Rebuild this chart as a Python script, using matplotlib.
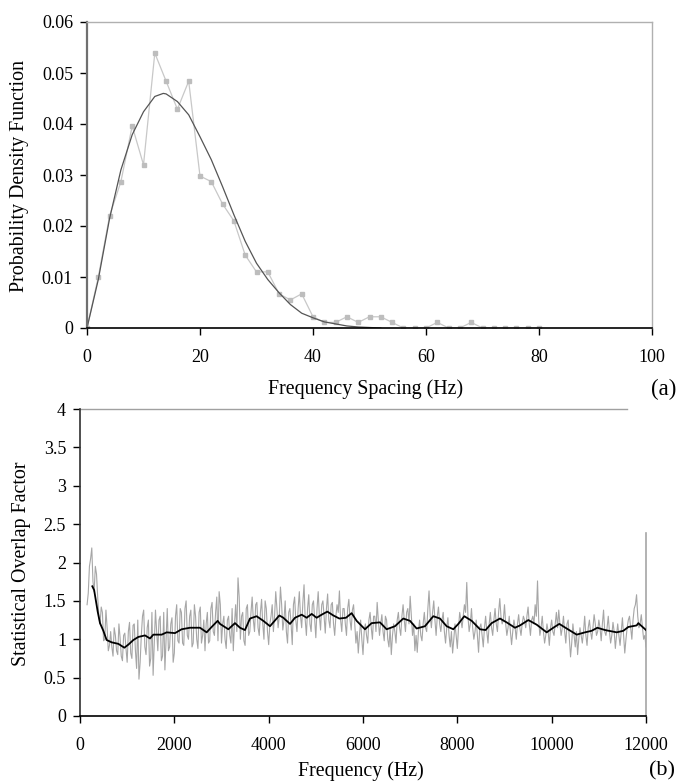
import numpy as np
import matplotlib.pyplot as plt

plt.rcParams['font.family'] = ['Liberation Serif', 'DejaVu Serif']

# (a) measured spacing histogram, every 2 Hz
spacing_x = [0, 2, 4, 6, 8, 10, 12, 14, 16, 18, 20, 22, 24, 26, 28, 30, 32, 34, 36, 38, 40,
             42, 44, 46, 48, 50, 52, 54, 56, 58, 60, 62, 64, 66, 68, 70, 72, 74, 76, 78, 80]
spacing_pdf = [0, 0.0100, 0.0220, 0.0287, 0.0396, 0.0320, 0.0539, 0.0484, 0.0429, 0.0484,
               0.0298, 0.0287, 0.0243, 0.0210, 0.0143, 0.0110, 0.0110, 0.0067, 0.0055, 0.0067,
               0.0022, 0.0011, 0.0011, 0.0022, 0.0011, 0.0022, 0.0022, 0.0011, 0, 0, 0,
               0.0011, 0, 0, 0.0011, 0, 0, 0, 0, 0, 0]

# (a) fitted curve
fit_x = [0, 2, 4, 6, 8, 10, 12, 13.5, 14, 16, 18, 20, 22, 24, 26, 28, 30, 32, 34, 36, 38,
         40, 42, 44, 46, 48, 50, 52]
fit_pdf = [0, 0.0095, 0.0215, 0.0310, 0.0379, 0.0424, 0.0454, 0.0460, 0.0459, 0.0444,
           0.0418, 0.0375, 0.0330, 0.0277, 0.0222, 0.0170, 0.0127, 0.0095, 0.0069, 0.0046,
           0.0029, 0.0020, 0.0012, 0.0008, 0.0004, 0.0002, 0.0001, 0]

# (b) raw statistical overlap factor, on the 50 Hz grid (150..12000)
sof_freq = np.arange(150, 12001, 50)
sof_raw = [
    1.45, 1.95, 2.19, 1.62, 1.85, 1.30, 1.42, 0.98, 1.38, 0.85,
    1.10, 0.78, 1.05, 0.80, 1.02, 0.72, 1.08, 0.70, 1.22, 0.75,
    1.20, 0.62, 0.48, 1.05, 1.38, 0.80, 1.25, 0.75, 0.53, 1.38,
    0.85, 1.30, 0.78, 0.60, 1.40, 0.90, 1.28, 0.82, 1.45, 0.95,
    1.35, 0.92, 1.50, 1.00, 1.38, 0.95, 1.30, 0.88, 1.42, 1.05,
    0.85, 1.35, 0.98, 1.48, 1.05, 1.55, 1.62, 0.95, 1.30, 0.88,
    1.30, 0.95, 0.85, 1.45, 1.80, 1.00, 1.35, 0.92, 1.45, 1.10,
    1.55, 1.10, 1.48, 1.05, 1.52, 1.00, 1.40, 0.93, 1.30, 1.10,
    1.62, 1.15, 1.68, 1.12, 1.50, 0.95, 1.40, 0.93, 1.55, 1.10,
    1.62, 1.15, 1.71, 1.05, 1.58, 1.10, 1.50, 1.02, 1.62, 1.12,
    1.50, 1.08, 1.59, 1.15, 1.48, 1.05, 1.45, 1.63, 1.10, 1.40,
    1.05, 1.52, 1.12, 1.45, 0.95, 0.82, 1.25, 0.80, 1.20, 0.95,
    1.35, 1.00, 1.30, 1.48, 1.05, 1.32, 0.98, 1.25, 0.90, 0.80,
    1.20, 0.95, 1.35, 1.05, 1.45, 1.10, 1.40, 1.56, 1.05, 0.85,
    0.83, 1.25, 0.98, 1.35, 1.10, 1.63, 1.15, 1.50, 1.05, 1.42,
    1.10, 1.35, 0.95, 1.28, 0.90, 0.82, 1.20, 0.88, 1.35, 1.15,
    1.45, 1.74, 1.10, 1.40, 1.00, 1.25, 0.83, 1.20, 0.90, 1.30,
    0.95, 1.35, 1.05, 1.40, 1.10, 1.53, 1.20, 1.45, 1.05, 1.30,
    0.93, 1.25, 1.00, 1.32, 1.05, 1.30, 1.15, 1.42, 1.05, 1.30,
    1.45, 1.76, 1.05, 1.30, 0.95, 1.20, 0.92, 1.25, 1.05, 1.35,
    1.38, 1.05, 1.30, 0.95, 1.25, 0.77, 1.20, 0.90, 0.80, 1.15,
    0.95, 1.30, 0.92, 1.25, 1.00, 1.32, 1.05, 1.25, 0.98, 1.38,
    1.05, 1.30, 0.95, 1.22, 0.88, 1.20, 0.92, 1.28, 0.82, 1.15,
    1.30, 1.00, 1.40, 1.58, 1.15, 1.32, 1.00, 0.90,
]
# in-between samples (175..11975)
sof_freq_mid = np.arange(175, 11976, 50)
sof_raw_mid = [
    1.60, 2.05, 1.75, 1.95, 1.55, 1.20, 1.35, 1.00, 1.15, 0.92,
    0.90, 1.15, 0.85, 1.20, 0.78, 1.05, 0.88, 1.10, 0.82, 1.18,
    0.85, 1.25, 0.70, 1.30, 0.90, 1.15, 0.65, 1.35, 0.95, 1.10,
    1.25, 0.72, 1.35, 1.00, 0.85, 1.20, 0.70, 1.30, 0.98, 1.40,
    0.95, 1.40, 1.05, 1.30, 0.90, 1.45, 1.00, 1.35, 0.95, 1.25,
    1.20, 0.95, 1.40, 1.10, 1.35, 0.98, 1.45, 1.20, 1.00, 1.25,
    1.05, 1.40, 1.20, 1.10, 1.55, 1.30, 0.98, 1.40, 1.05, 1.35,
    1.25, 1.45, 1.15, 1.35, 1.20, 1.50, 1.10, 1.20, 1.45, 1.30,
    1.40, 1.30, 1.45, 1.25, 1.10, 1.35, 1.20, 1.45, 1.25, 1.40,
    1.30, 1.48, 1.25, 1.40, 1.20, 1.45, 1.25, 1.40, 1.30, 1.45,
    1.30, 1.40, 1.25, 1.45, 1.20, 1.30, 1.35, 1.25, 1.40, 1.20,
    1.40, 1.25, 1.38, 1.20, 1.10, 1.05, 1.00, 1.10, 1.05, 1.25,
    1.15, 1.30, 1.10, 1.25, 1.20, 1.10, 1.30, 1.00, 1.15, 1.05,
    1.10, 1.25, 1.15, 1.30, 1.25, 1.35, 1.20, 1.30, 1.20, 1.05,
    1.10, 1.05, 1.20, 1.15, 1.40, 1.30, 1.35, 1.25, 1.30, 1.20,
    1.25, 1.10, 1.15, 1.05, 1.10, 1.00, 1.05, 1.15, 1.25, 1.30,
    1.35, 1.30, 1.20, 1.15, 1.10, 1.05, 1.15, 1.05, 1.15, 1.10,
    1.20, 1.15, 1.25, 1.20, 1.35, 1.30, 1.25, 1.20, 1.15, 1.10,
    1.10, 1.15, 1.20, 1.15, 1.20, 1.25, 1.30, 1.20, 1.25, 1.20,
    1.30, 1.25, 1.15, 1.10, 1.05, 1.10, 1.15, 1.10, 1.20, 1.15,
    1.20, 1.15, 1.10, 1.20, 1.00, 0.95, 1.05, 1.10, 1.00, 1.05,
    1.10, 1.05, 1.15, 1.10, 1.15, 1.20, 1.10, 1.15, 1.20, 1.10,
    1.15, 1.10, 1.05, 1.10, 1.05, 1.05, 1.10, 1.05, 1.00, 1.25,
    1.15, 1.25, 1.45, 1.30, 1.20, 1.15, 1.05,
]
edge_freq = [12000, 12000]
edge_sof = [0, 2.38]

# (b) smoothed overlap factor
smooth_freq = [261, 300, 375, 424, 495, 565, 671, 813, 940, 1025, 1131, 1237, 1378, 1484,
               1555, 1731, 1837, 2014, 2155, 2332, 2544, 2685, 2791, 2918, 2968, 3145, 3286,
               3392, 3498, 3604, 3745, 3886, 4028, 4226, 4311, 4452, 4558, 4700, 4806, 4912,
               5017, 5123, 5244, 5371, 5498, 5639, 5759, 5865, 6042, 6183, 6360, 6501, 6678,
               6854, 6996, 7137, 7314, 7490, 7632, 7773, 7915, 8021, 8148, 8304, 8480, 8600,
               8727, 8904, 9045, 9222, 9328, 9505, 9682, 9894, 10035, 10162, 10318, 10530,
               10707, 10848, 10968, 11131, 11378, 11519, 11625, 11802, 11837, 12000]
smooth_sof = [1.69, 1.64, 1.36, 1.21, 1.11, 0.99, 0.96, 0.94, 0.89, 0.93, 0.99, 1.03, 1.05,
              1.01, 1.06, 1.06, 1.09, 1.08, 1.13, 1.15, 1.15, 1.09, 1.16, 1.24, 1.20, 1.13,
              1.21, 1.15, 1.12, 1.27, 1.30, 1.24, 1.17, 1.31, 1.28, 1.20, 1.28, 1.32, 1.28,
              1.33, 1.28, 1.32, 1.36, 1.31, 1.27, 1.28, 1.34, 1.24, 1.13, 1.21, 1.22, 1.13,
              1.17, 1.27, 1.24, 1.14, 1.17, 1.30, 1.27, 1.17, 1.13, 1.20, 1.30, 1.24, 1.13,
              1.12, 1.21, 1.27, 1.22, 1.15, 1.18, 1.25, 1.19, 1.09, 1.15, 1.20, 1.14, 1.06,
              1.09, 1.11, 1.15, 1.12, 1.09, 1.11, 1.16, 1.18, 1.21, 1.12]

# merge the two sample grids in frequency order
raw_f = np.concatenate([sof_freq, sof_freq_mid])
raw_v = np.concatenate([sof_raw, sof_raw_mid])
order = np.argsort(raw_f)
raw_f, raw_v = raw_f[order], raw_v[order]

fig = plt.figure(figsize=(6.8, 7.84), dpi=100)

# ---- (a) ----
ax1 = fig.add_axes([87 / 680, 1 - 328 / 784, 565 / 680, 306 / 784])
ax1.plot(spacing_x, spacing_pdf, color='#c8c8c8', lw=0.9, marker='s', ms=2.5,
         mfc='#bdbdbd', mec='#bdbdbd')
ax1.plot(fit_x, fit_pdf, color='#555555', lw=0.9)
ax1.set_xlim(0, 100)
ax1.set_ylim(0, 0.06)
ax1.set_xticks([0, 20, 40, 60, 80, 100])
ax1.set_yticks([0, 0.01, 0.02, 0.03, 0.04, 0.05, 0.06])
ax1.set_yticklabels(['0', '0.01', '0.02', '0.03', '0.04', '0.05', '0.06'])
ax1.spines['left'].set_color('#707070')
ax1.spines['left'].set_linewidth(1.6)
ax1.spines['bottom'].set_color('black')
ax1.spines['bottom'].set_linewidth(1.2)
for s in ['top', 'right']:
    ax1.spines[s].set_color('#b0b0b0')
    ax1.spines[s].set_linewidth(1.0)
ax1.tick_params(axis='x', direction='out', length=5, width=1, labelsize=13, pad=10)
ax1.tick_params(axis='y', direction='out', length=5, width=1, labelsize=13, pad=5)
fig.text(20 / 680, 1 - 176 / 784, 'Probability Density Function', rotation=90,
         ha='center', va='center', fontsize=14.4)
fig.text(366 / 680, 1 - 389 / 784, 'Frequency Spacing (Hz)', ha='center', va='center',
         fontsize=14.4)
fig.text(664 / 680, 1 - 389 / 784, '(a)', ha='center', va='center', fontsize=16.5)

# ---- (b) ----
ax2 = fig.add_axes([80 / 680, 1 - 716 / 784, 566 / 680, 307 / 784])
ax2.plot(raw_f, raw_v, color='#a6a6a6', lw=0.8)
ax2.plot(edge_freq, edge_sof, color='#a6a6a6', lw=1.2, clip_on=False)
ax2.plot(smooth_freq, smooth_sof, color='black', lw=1.3)
ax2.set_xlim(0, 12000)
ax2.set_ylim(0, 4)
ax2.set_xticks([0, 2000, 4000, 6000, 8000, 10000, 12000])
ax2.set_yticks([0, 0.5, 1, 1.5, 2, 2.5, 3, 3.5, 4])
ax2.set_yticklabels(['0', '0.5', '1', '1.5', '2', '2.5', '3', '3.5', '4'])
ax2.axhline(4, xmin=0, xmax=(627 - 80) / 566, color='#a0a0a0', lw=1.0, clip_on=False)
ax2.spines['top'].set_visible(False)
ax2.spines['right'].set_visible(False)
ax2.spines['left'].set_color('#303030')
ax2.spines['left'].set_linewidth(1.2)
ax2.spines['bottom'].set_color('black')
ax2.spines['bottom'].set_linewidth(1.2)
ax2.tick_params(axis='x', direction='out', length=5, width=1, labelsize=13, pad=10)
ax2.tick_params(axis='y', direction='out', length=5, width=1, labelsize=13, pad=5)
fig.text(22 / 680, 1 - 564 / 784, 'Statistical Overlap Factor', rotation=90,
         ha='center', va='center', fontsize=14.4)
fig.text(361 / 680, 1 - 771 / 784, 'Frequency (Hz)', ha='center', va='center',
         fontsize=14.4)
fig.text(662 / 680, 1 - 771 / 784, '(b)', ha='center', va='center', fontsize=16)

fig.savefig('out.png', dpi=100)
